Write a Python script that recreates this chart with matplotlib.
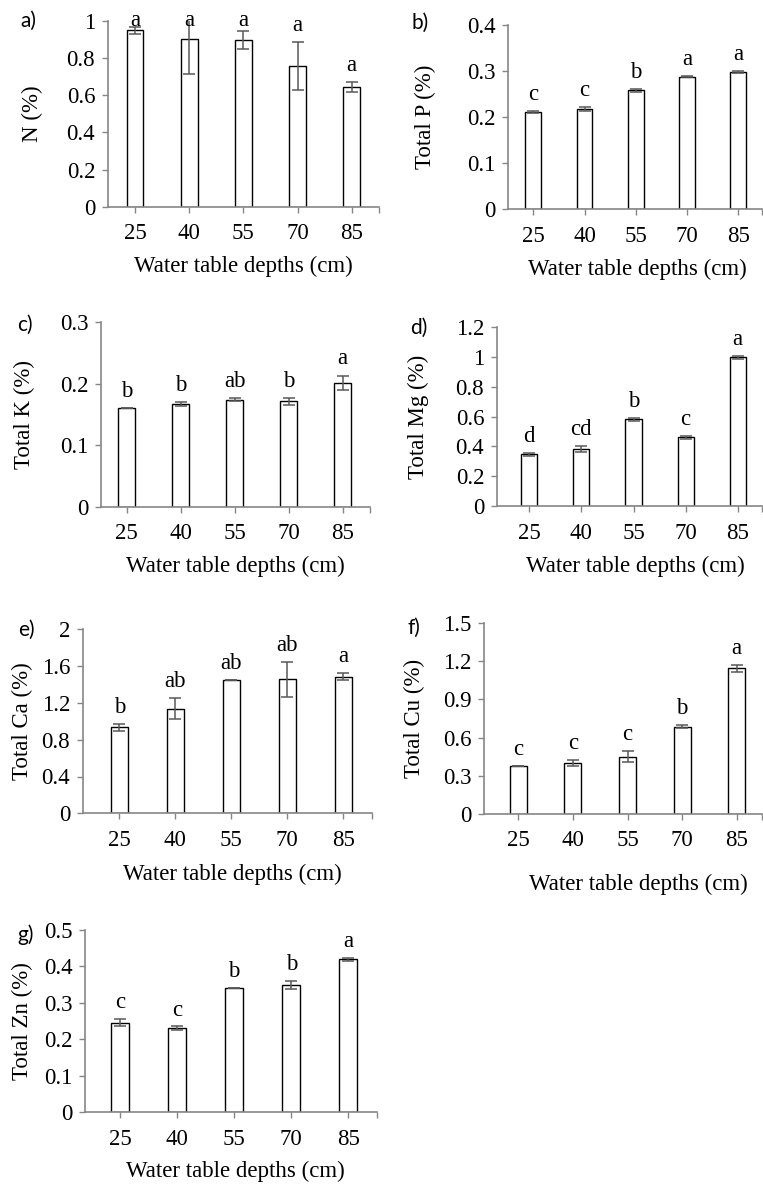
import matplotlib
matplotlib.use("Agg")
import matplotlib.pyplot as plt
from matplotlib.ticker import FuncFormatter, FixedLocator

# ---------------- data ----------------
depths = ["25", "40", "55", "70", "85"]

n_mean = [0.95, 0.903, 0.896, 0.756, 0.643]
n_err = [0.018, 0.19, 0.048, 0.13, 0.028]
n_let = ["a", "a", "a", "a", "a"]

p_mean = [0.211, 0.217, 0.258, 0.288, 0.297]
p_err = [0.002, 0.005, 0.003, 0.002, 0.002]
p_let = ["c", "c", "b", "a", "a"]

k_mean = [0.160, 0.167, 0.174, 0.171, 0.201]
k_err = [0.0, 0.003, 0.002, 0.006, 0.012]
k_let = ["b", "b", "ab", "b", "a"]

mg_mean = [0.349, 0.385, 0.582, 0.463, 0.998]
mg_err = [0.01, 0.02, 0.01, 0.01, 0.01]
mg_let = ["d", "cd", "b", "c", "a"]

ca_mean = [0.935, 1.138, 1.446, 1.457, 1.486]
ca_err = [0.04, 0.11, 0.0, 0.19, 0.04]
ca_let = ["b", "ab", "ab", "ab", "a"]

cu_mean = [0.376, 0.397, 0.449, 0.685, 1.145]
cu_err = [0.0, 0.024, 0.045, 0.01, 0.025]
cu_let = ["c", "c", "c", "b", "a"]

zn_mean = [0.2454, 0.230, 0.340, 0.349, 0.419]
zn_err = [0.009, 0.005, 0.0, 0.012, 0.005]
zn_let = ["c", "c", "b", "b", "a"]

ylabels = ["N (%)", "Total P (%)", "Total K (%)", "Total Mg (%)",
           "Total Ca (%)", "Total Cu (%)", "Total Zn (%)"]
panel_tags = ["a)", "b)", "c)", "d)", "e)", "f)", "g)"]
y_max = [1.0, 0.4, 0.3, 1.2, 2.0, 1.5, 0.5]
y_step = [0.2, 0.1, 0.1, 0.2, 0.4, 0.3, 0.1]
xlabel_text = "Water table depths (cm)"

# ---------------- layout (pixels) ----------------
W, H = 763, 1185
# left, right, top(ymax), bottom(0), center of first bar, center of last bar
boxes = [
    (107.7, 379.0, 21.0, 206.7, 135.0, 351.7),
    (508.3, 761.7, 25.0, 209.0, 533.3, 738.3),
    (101.0, 370.0, 322.0, 506.7, 126.7, 342.7),
    (496.7, 761.7, 327.3, 506.0, 529.3, 737.7),
    (82.7, 371.7, 629.3, 813.3, 119.3, 343.3),
    (484.0, 761.7, 623.3, 813.7, 518.3, 736.7),
    (85.0, 376.7, 930.0, 1112.0, 120.0, 348.3),
]
ylabel_x = [32, 425, 24, 418, 22, 414, 22]
xlabel_pos = [(243, 266), (637, 269), (235, 566), (635, 566),
              (232, 874), (638, 884), (235, 1171)]
tag_pos = [(20, 21), (412, 23), (17, 325), (410, 328), (18, 630), (407, 628), (17, 935)]

means = [n_mean, p_mean, k_mean, mg_mean, ca_mean, cu_mean, zn_mean]
errs = [n_err, p_err, k_err, mg_err, ca_err, cu_err, zn_err]
lets = [n_let, p_let, k_let, mg_let, ca_let, cu_let, zn_let]

SERIF = ["Liberation Serif", "DejaVu Serif"]
SANS = ["Lato", "DejaVu Sans"]
FS = 16.5
AXIS_COL = "#868686"
ERR_COL = "#595959"

fig = plt.figure(figsize=(W / 100, H / 100), dpi=100)


def fmt(v, pos):
    return "%g" % round(v, 6)


for i in range(7):
    l, r, t, b, c0, c4 = boxes[i]
    ax = fig.add_axes([l / W, 1 - b / H, (r - l) / W, (b - t) / H])
    sp = (c4 - c0) / 4.0
    xl = -(c0 - l) / sp
    xr = 4 + (r - c4) / sp
    x = list(range(len(depths)))
    ax.bar(x, means[i], width=0.31, color="white", edgecolor="black",
           linewidth=1.0, zorder=2)
    ax.errorbar(x, means[i], yerr=errs[i], fmt="none", ecolor=ERR_COL,
                elinewidth=1.1, capsize=4, capthick=1.1, zorder=3)
    ym = y_max[i]
    for xi, m, e, s in zip(x, means[i], errs[i], lets[i]):
        yb = min(m + e + 0.06 * ym, 0.975 * ym)
        ax.text(xi, yb, s, ha="center", va="baseline", fontsize=FS,
                family=SERIF, clip_on=False, zorder=4)
    ax.set_xlim(xl, xr)
    ax.set_ylim(0, ym)
    nt = int(round(ym / y_step[i]))
    ax.yaxis.set_major_locator(FixedLocator([k * y_step[i] for k in range(nt + 1)]))
    ax.yaxis.set_major_formatter(FuncFormatter(fmt))
    ax.set_xticks(x)
    ax.set_xticklabels(depths)
    ax.xaxis.set_minor_locator(FixedLocator([xr]))
    for sname in ["top", "right"]:
        ax.spines[sname].set_visible(False)
    for sname in ["left", "bottom"]:
        ax.spines[sname].set_color(AXIS_COL)
        ax.spines[sname].set_linewidth(1.2)
    ax.tick_params(axis="y", direction="out", length=4.5, width=1.0,
                   color=AXIS_COL, pad=4.5, labelsize=FS)
    ax.tick_params(axis="x", which="major", direction="out", length=4, width=1.0,
                   color=AXIS_COL, pad=8, labelsize=FS)
    ax.tick_params(axis="x", which="minor", direction="out", length=4, width=1.0,
                   color=AXIS_COL)
    for lab in ax.get_xticklabels() + ax.get_yticklabels():
        lab.set_family(SERIF)
    ax.patch.set_alpha(0)

    ymid = (t + b) / 2.0
    fig.text(ylabel_x[i] / W, 1 - ymid / H, ylabels[i], rotation=90,
             ha="center", va="center", fontsize=FS, family=SERIF)
    xx, yy = xlabel_pos[i]
    fig.text(xx / W, 1 - yy / H, xlabel_text, ha="center", va="center",
             fontsize=FS, family=SERIF)
    tx, ty = tag_pos[i]
    fig.text(tx / W, 1 - ty / H, panel_tags[i], ha="left", va="center",
             fontsize=15, family=SANS)

fig.savefig("out.png", dpi=100)
